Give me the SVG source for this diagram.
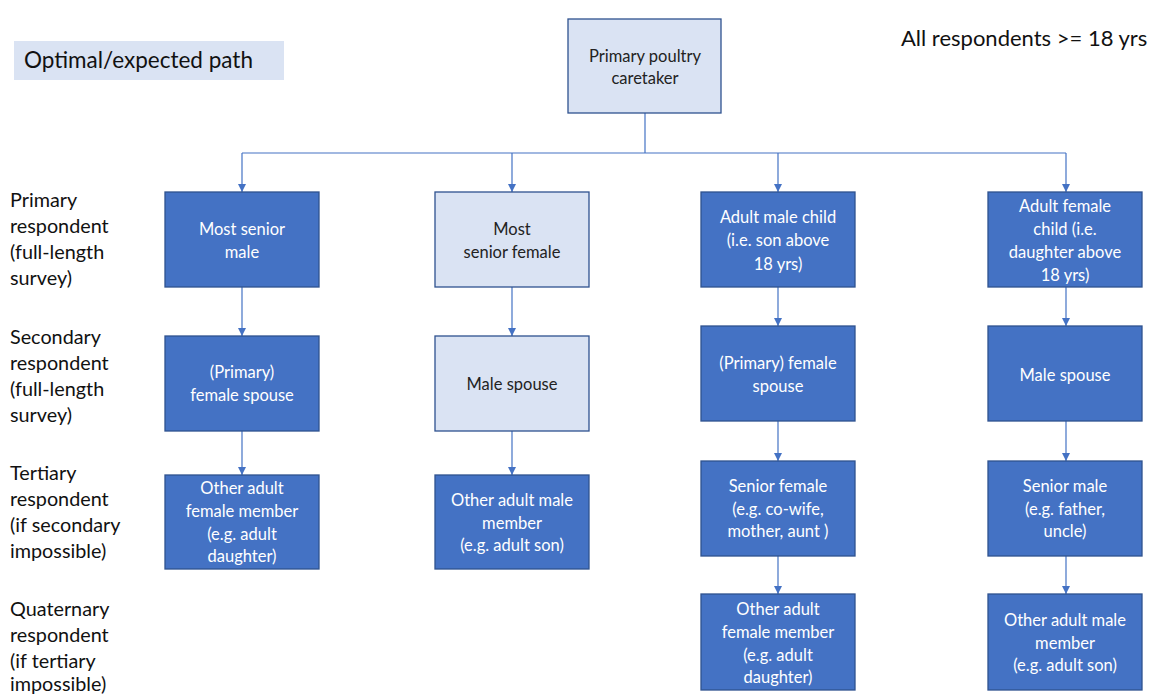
<svg xmlns="http://www.w3.org/2000/svg" width="1151" height="695" viewBox="0 0 1151 695">
<style>
text{font-family:Lato,"Liberation Sans",sans-serif}
.dark{fill:#4472c4;stroke:#2f528f;stroke-width:1.3}
.light{fill:#dae3f3;stroke:#2f528f;stroke-width:1.3}
.wt{fill:#ffffff;font-size:16.5px;text-anchor:middle}
.bt{fill:#222222;font-size:16.5px;text-anchor:middle}
.lbl{fill:#111111;font-size:19.8px}
.con{fill:none;stroke:#4472c4;stroke-width:1.2}
</style>
<defs>
<marker id="ah" markerWidth="8" markerHeight="8" refX="8" refY="4" orient="auto" markerUnits="userSpaceOnUse">
<path d="M0,0 L8,4 L0,8 Z" fill="#4472c4"/>
</marker>
</defs>
<rect width="1151" height="695" fill="#ffffff"/>
<g id="legend">
<rect x="14" y="41" width="270" height="39" fill="#dae3f3"/>
<text x="24" y="68" style="font-size:22.5px;fill:#111">Optimal/expected path</text>
</g>
<g id="note"><text x="901" y="46" style="font-size:22px;fill:#111">All respondents &gt;= 18 yrs</text></g>
<g id="labels">
<text class="lbl" x="10" y="207">Primary</text>
<text class="lbl" x="10" y="233">respondent</text>
<text class="lbl" x="10" y="259">(full-length</text>
<text class="lbl" x="10" y="285">survey)</text>
<text class="lbl" x="10" y="344">Secondary</text>
<text class="lbl" x="10" y="370">respondent</text>
<text class="lbl" x="10" y="396">(full-length</text>
<text class="lbl" x="10" y="422">survey)</text>
<text class="lbl" x="10" y="480">Tertiary</text>
<text class="lbl" x="10" y="506">respondent</text>
<text class="lbl" x="10" y="532">(if secondary</text>
<text class="lbl" x="10" y="558">impossible)</text>
<text class="lbl" x="10" y="616">Quaternary</text>
<text class="lbl" x="10" y="642">respondent</text>
<text class="lbl" x="10" y="668">(if tertiary</text>
<text class="lbl" x="10" y="691">impossible)</text>
</g>
<g id="connectors">
<path class="con" d="M645,113 V153"/>
<path class="con" d="M242,153 H1066"/>
<path class="con" d="M242,153 V192" marker-end="url(#ah)"/>
<path class="con" d="M512,153 V192" marker-end="url(#ah)"/>
<path class="con" d="M778,153 V192" marker-end="url(#ah)"/>
<path class="con" d="M1066,153 V192" marker-end="url(#ah)"/>
<path class="con" d="M242,287 V336" marker-end="url(#ah)"/>
<path class="con" d="M242,431 V475" marker-end="url(#ah)"/>
<path class="con" d="M512,287 V336" marker-end="url(#ah)"/>
<path class="con" d="M512,431 V475" marker-end="url(#ah)"/>
<path class="con" d="M778,287 V326" marker-end="url(#ah)"/>
<path class="con" d="M778,421 V461" marker-end="url(#ah)"/>
<path class="con" d="M778,556 V594" marker-end="url(#ah)"/>
<path class="con" d="M1066,287 V326" marker-end="url(#ah)"/>
<path class="con" d="M1066,421 V461" marker-end="url(#ah)"/>
<path class="con" d="M1066,556 V594" marker-end="url(#ah)"/>
</g>
<g id="root"><rect class="light" x="568" y="19" width="153" height="94"/>
<text class="bt" x="645" y="62">Primary poultry</text><text class="bt" x="645" y="84">caretaker</text></g>
<g id="c1r1"><rect class="dark" x="165" y="192" width="154" height="95"/>
<text class="wt" x="242" y="235">Most senior</text><text class="wt" x="242" y="258">male</text></g>
<g id="c2r1"><rect class="light" x="435" y="192" width="154" height="95"/>
<text class="bt" x="512" y="235">Most</text><text class="bt" x="512" y="258">senior female</text></g>
<g id="c3r1"><rect class="dark" x="701" y="192" width="154" height="95"/>
<text class="wt" x="778" y="223">Adult male child</text><text class="wt" x="778" y="246">(i.e. son above</text><text class="wt" x="778" y="270">18 yrs)</text></g>
<g id="c4r1"><rect class="dark" x="988" y="192" width="154" height="95"/>
<text class="wt" x="1065" y="212">Adult female</text><text class="wt" x="1065" y="235">child (i.e.</text><text class="wt" x="1065" y="258">daughter above</text><text class="wt" x="1065" y="281">18 yrs)</text></g>
<g id="c1r2"><rect class="dark" x="165" y="336" width="154" height="95"/>
<text class="wt" x="242" y="378">(Primary)</text><text class="wt" x="242" y="401">female spouse</text></g>
<g id="c2r2"><rect class="light" x="435" y="336" width="154" height="95"/>
<text class="bt" x="512" y="390">Male spouse</text></g>
<g id="c3r2"><rect class="dark" x="701" y="326" width="154" height="95"/>
<text class="wt" x="778" y="369">(Primary) female</text><text class="wt" x="778" y="392">spouse</text></g>
<g id="c4r2"><rect class="dark" x="988" y="326" width="154" height="95"/>
<text class="wt" x="1065" y="381">Male spouse</text></g>
<g id="c1r3"><rect class="dark" x="165" y="475" width="154" height="94"/>
<text class="wt" x="242" y="494">Other adult</text><text class="wt" x="242" y="517">female member</text><text class="wt" x="242" y="540">(e.g. adult</text><text class="wt" x="242" y="562">daughter)</text></g>
<g id="c2r3"><rect class="dark" x="435" y="475" width="154" height="94"/>
<text class="wt" x="512" y="506">Other adult male</text><text class="wt" x="512" y="529">member</text><text class="wt" x="512" y="551">(e.g. adult son)</text></g>
<g id="c3r3"><rect class="dark" x="701" y="461" width="154" height="95"/>
<text class="wt" x="778" y="492">Senior female</text><text class="wt" x="778" y="515">(e.g. co-wife,</text><text class="wt" x="778" y="537">mother, aunt )</text></g>
<g id="c4r3"><rect class="dark" x="988" y="461" width="154" height="95"/>
<text class="wt" x="1065" y="492">Senior male</text><text class="wt" x="1065" y="515">(e.g. father,</text><text class="wt" x="1065" y="537">uncle)</text></g>
<g id="c3r4"><rect class="dark" x="701" y="594" width="154" height="96"/>
<text class="wt" x="778" y="615">Other adult</text><text class="wt" x="778" y="638">female member</text><text class="wt" x="778" y="661">(e.g. adult</text><text class="wt" x="778" y="683">daughter)</text></g>
<g id="c4r4"><rect class="dark" x="988" y="594" width="154" height="96"/>
<text class="wt" x="1065" y="626">Other adult male</text><text class="wt" x="1065" y="649">member</text><text class="wt" x="1065" y="671">(e.g. adult son)</text></g>
</svg>
